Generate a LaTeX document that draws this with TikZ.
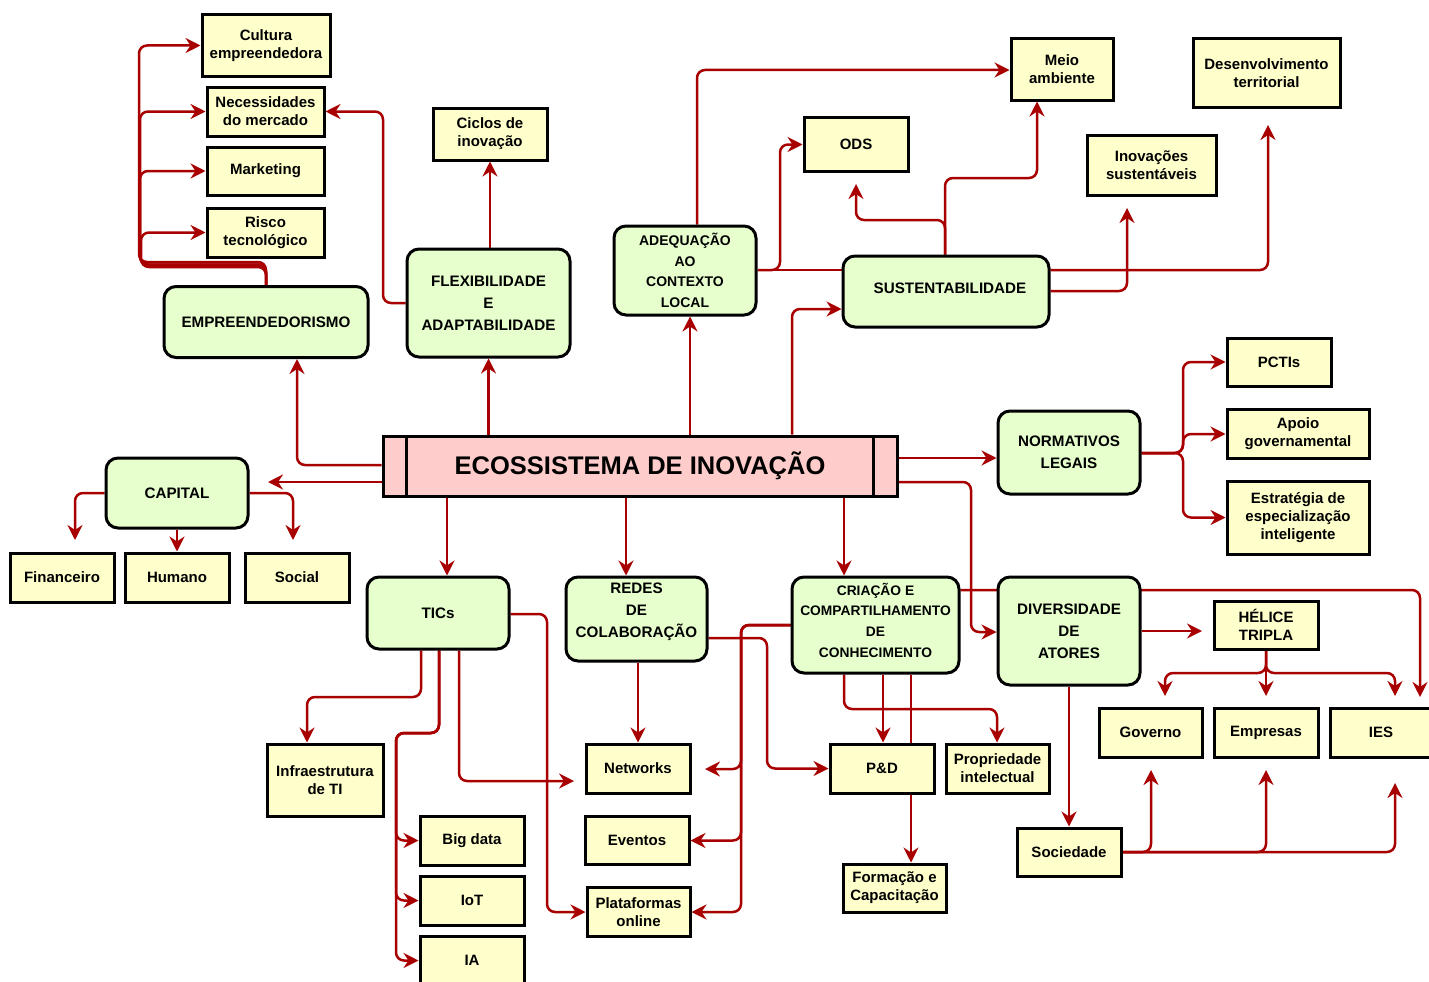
\documentclass[tikz,border=0pt]{standalone}
\usepackage{fontspec}
\setmainfont{Liberation Sans}
\usetikzlibrary{arrows.meta,backgrounds}

\definecolor{linkred}{RGB}{168,0,0}
\definecolor{leaffill}{RGB}{255,255,204}
\definecolor{hubfill}{RGB}{230,255,204}
\definecolor{corefill}{RGB}{255,204,204}

\tikzset{
  wh/.style 2 args={minimum width=#1pt, minimum height=#2pt},
  leaf/.style={draw=black, line width=3pt, fill=leaffill, inner sep=0pt, align=center,
    font=\fontsize{15}{18}\selectfont\bfseries},
  hub/.style={draw=black, line width=3pt, fill=hubfill, rounded corners=12pt, inner sep=0pt,
    align=center, font=\fontsize{15.2}{22}\selectfont\bfseries},
  hubtext/.style={inner sep=0pt, align=center, font=\fontsize{15.2}{22}\selectfont\bfseries},
  core/.style={draw=black, line width=3pt, fill=corefill, inner sep=0pt,
    font=\fontsize{25.5}{28}\selectfont\bfseries},
  link/.style={draw=linkred, line width=2.5pt, rounded corners=8pt,
    -{Stealth[length=15pt,width=15pt,inset=5pt]}},
  plainlink/.style={draw=linkred, line width=2.5pt, rounded corners=8pt},
}

\begin{document}
\begin{tikzpicture}[x=1pt,y=-1pt]
\useasboundingbox (0,0) rectangle (1429,982);

% central process box
\node[core, wh={514}{60}] (eco) at (640,466) {ECOSSISTEMA DE INOVAÇÃO};
\draw[line width=3pt] ([xshift=25pt]eco.north west) -- ([xshift=25pt]eco.south west);
\draw[line width=3pt] ([xshift=-25pt]eco.north east) -- ([xshift=-25pt]eco.south east);

% main themes
\node[hub, wh={204}{71}] (empr) at (266,322) {EMPREENDEDORISMO};
\node[hub, wh={163}{108}] (flex) at (488.5,303) {FLEXIBILIDADE\\E\\ADAPTABILIDADE};
\node[hub, wh={142}{89}, font=\fontsize{14}{20.5}\selectfont\bfseries] (adeq) at (685,270.5)
  {ADEQUAÇÃO\\AO\\CONTEXTO\\LOCAL};
\node[hub, wh={206}{71}] (sust) at (946,291.5) {};
\node[hubtext] (sust-t) at (950,288) {SUSTENTABILIDADE};
\node[hub, wh={142}{83}] (norm) at (1069,452.5) {NORMATIVOS\\LEGAIS};
\node[hub, wh={142}{70}] (capital) at (177,493) {CAPITAL};
\node[hub, wh={142}{72}] (tics) at (438,613) {TICs};
\node[hub, wh={141}{84}] (redes) at (636.5,619) {};
\node[hubtext] (redes-t) at (636.5,611.5) {REDES\\DE\\COLABORAÇÃO};
\node[hub, wh={167}{96}] (criacao) at (875.5,625) {};
\node[hubtext, font=\fontsize{13.8}{20.7}\selectfont\bfseries] (criacao-t) at (875.5,620)
  {CRIAÇÃO E\\COMPARTILHAMENTO\\DE\\CONHECIMENTO};
\node[hub, wh={142}{108}] (divers) at (1069,631) {DIVERSIDADE\\DE\\ATORES};

% detail boxes
\node[leaf, wh={128}{61}] (cult) at (266,45.5) {Cultura\\empreendedora};
\node[leaf, wh={117}{49}] (nec) at (265.5,111.5) {Necessidades\\do mercado};
\node[leaf, wh={117}{48}] (mkt) at (265.5,171) {Marketing};
\node[leaf, wh={117}{49}] (risco) at (265.5,232.5) {Risco\\tecnológico};
\node[leaf, wh={114}{52}] (ciclos) at (490,134) {Ciclos de\\inovação};
\node[leaf, wh={104}{54}] (ods) at (856,144.5) {ODS};
\node[leaf, wh={102}{61}] (meio) at (1062,69.5) {Meio\\ambiente};
\node[leaf, wh={147}{68}] (desenv) at (1266.5,73) {Desenvolvimento\\territorial};
\node[leaf, wh={129}{60}] (inov) at (1151.5,165) {Inovações\\sustentáveis};
\node[leaf, wh={104}{48}] (pctis) at (1279,362) {PCTIs};
\node[leaf, wh={142}{49}] (apoio) at (1298,434) {Apoio\\governamental};
\node[leaf, wh={142}{73}] (estrat) at (1298,517.5) {Estratégia de\\especialização\\inteligente};
\node[leaf, wh={104}{49}] (fin) at (62,577.5) {Financeiro};
\node[leaf, wh={104}{49}] (hum) at (177,577.5) {Humano};
\node[leaf, wh={104}{49}] (soc) at (297,577.5) {Social};
\node[leaf, wh={116}{72}] (infra) at (325,780) {Infraestrutura\\de TI};
\node[leaf, wh={104}{49}] (bigdata) at (472,840.5) {Big data};
\node[leaf, wh={104}{49}] (iot) at (472,900.5) {IoT};
\node[leaf, wh={104}{49}] (ia) at (472,960.5) {IA};
\node[leaf, wh={104}{49}] (netw) at (638,768.5) {Networks};
\node[leaf, wh={104}{48}] (event) at (637,840.5) {Eventos};
\node[leaf, wh={103}{49}] (plat) at (638.5,912) {Plataformas\\online};
\node[leaf, wh={104}{49}] (pd) at (882,768.5) {P\&D};
\node[leaf, wh={103}{49}] (prop) at (997.5,768.5) {Propriedade\\intelectual};
\node[leaf, wh={103}{48}] (form) at (894.5,888) {Formação e\\Capacitação};
\node[leaf, wh={104}{48}] (helice) at (1266,625) {HÉLICE\\TRIPLA};
\node[leaf, wh={103}{49}] (gov) at (1150.5,732.5) {Governo};
\node[leaf, wh={104}{49}] (emp) at (1266,732.5) {Empresas};
\node[leaf, wh={102}{49}] (ies) at (1381,732.5) {IES};
\node[leaf, wh={104}{48}] (socied) at (1069,852) {Sociedade};

% free arrow ends
\coordinate (cap-in) at (268,482);
\coordinate (ods-in) at (856,184);
\coordinate (desenv-in) at (1268,125);
\coordinate (inov-in) at (1127,208);
\coordinate (fin-in) at (75,540);
\coordinate (soc-in) at (293,540);
\coordinate (netw-l) at (574,781);
\coordinate (netw-r) at (705,769);
\coordinate (helice-in) at (1202,631);
\coordinate (gov-top) at (1165,696);
\coordinate (emp-top) at (1266,696);
\coordinate (ies-top) at (1395,696);
\coordinate (ies-far) at (1420,697);
\coordinate (gov-bot) at (1151,770);
\coordinate (emp-bot) at (1266,770);
\coordinate (ies-bot) at (1395,783);

\begin{pgfonlayer}{background}
\fill[white] (0,0) rectangle (1429,982);
% from the central box
\draw[link] (eco.west |- 0,465) -| (empr.south -| 297,0);
\draw[link] (eco.west |- 0,482) -- (cap-in);
\draw[link] (eco.north -| flex.south) -- (flex.south);
\draw[link] (eco.north -| 690,0) -- (adeq.south -| 690,0);
\draw[link] (eco.north -| 792,0) |- (sust.west |- 0,309);
\draw[link] (eco.east |- 0,458) -- (norm.west |- 0,458);
\draw[link] (eco.east |- 0,482) -- (971,482) |- (divers.west |- 0,632);
\draw[link] (eco.south -| 447,0) -- (tics.north -| 447,0);
\draw[link] (eco.south -| 626,0) -- (redes.north -| 626,0);
\draw[link] (eco.south -| 844,0) -- (criacao.north -| 844,0);

% entrepreneurship
\draw[link] (empr.north) -- (266,262) -- (139,262) |- (cult.west);
\draw[link] (empr.north) -- (266,264.5) -- (140,264.5) |- (nec.west);
\draw[link] (empr.north) -- (266,264.5) -- (140,264.5) |- (mkt.west);
\draw[link] (empr.north) -- (266,267) -- (141,267) |- (risco.west);

% flexibility
\draw[link] (flex.west |- 0,303) -- (383,303) |- (nec.east);
\draw[link] (flex.north -| 490,0) -- (ciclos.south -| 490,0);

% local context
\draw[link] (adeq.north -| 697,0) |- (meio.west |- 0,70);
\draw[link] (adeq.east |- 0,270) -- (780,270) |- (ods.west);
\draw[plainlink] (adeq.east |- 0,270) -- (sust.west |- 0,270);

% sustainability
\draw[link] (sust.north -| 945,0) -- (945,220) -| (ods-in);
\draw[link] (sust.north -| 945,0) -- (945,178) -| (meio.south -| 1037,0);
\draw[link] (sust.east |- 0,270) -| (desenv-in);
\draw[link] (sust.east |- 0,291) -| (inov-in);

% legal framework
\draw[link] (norm.east |- 0,453) -- (1183,453) |- (pctis.west);
\draw[link] (norm.east |- 0,453) -- (1183,453) |- (apoio.west);
\draw[link] (norm.east |- 0,453) -- (1183,453) |- (estrat.west);

% capital
\draw[link] (capital.west |- 0,493) -| (fin-in);
\draw[link] (capital.south) -- (hum.north);
\draw[link] (capital.east |- 0,493) -| (soc-in);

% ICT
\draw[link] (tics.south -| 421,0) -- (421,697) -| (infra.north -| 307,0);
\draw[link] (tics.south -| 439,0) -- (439,733) -- (396,733) |- (bigdata.west);
\draw[link] (tics.south -| 439,0) -- (439,733) -- (396,733) |- (iot.west);
\draw[link] (tics.south -| 439,0) -- (439,733) -- (396,733) |- (ia.west);
\draw[link] (tics.south -| 459,0) |- (netw-l);
\draw[link] (tics.east |- 0,614) -- (547,614) |- (plat.west);

% collaboration networks
\draw[link] (redes.south -| 638,0) -- (netw.north -| 638,0);
\draw[link] (redes.east |- 0,638) -- (767,638) |- (pd.west);

% knowledge creation and sharing
\draw[link] (criacao.west |- 0,625) -- (741,625) |- (netw-r);
\draw[link] (criacao.west |- 0,625) -- (741,625) |- (event.east);
\draw[link] (criacao.west |- 0,625) -- (741,625) |- (plat.east);
\draw[link] (criacao.south -| 883,0) -- (pd.north -| 883,0);
\draw[link] (criacao.south -| 911,0) -- (form.north -| 911,0);
\draw[link] (criacao.south -| 844,0) -- (844,709) -| (prop.north -| 997,0);
\draw[link] (criacao.east |- 0,590) -| (ies-far);

% diversity of actors
\draw[link] (divers.east |- 0,631) -- (helice-in);
\draw[link] (divers.south) -- (socied.north);
\draw[link] (helice.south) -- (1266,673) -| (gov-top);
\draw[link] (helice.south) -- (emp-top);
\draw[link] (helice.south) -- (1266,673) -| (ies-top);
\draw[link] (socied.east |- 0,852) -| (gov-bot);
\draw[link] (socied.east |- 0,852) -| (emp-bot);
\draw[link] (socied.east |- 0,852) -| (ies-bot);
\end{pgfonlayer}
\end{tikzpicture}
\end{document}
